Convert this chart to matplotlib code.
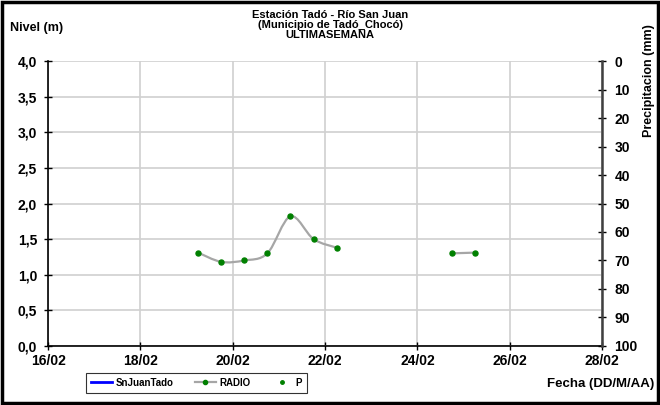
import numpy as np
import pandas as pd
import matplotlib
matplotlib.use('Agg')
import matplotlib.pyplot as plt
import matplotlib.dates as mdates
from matplotlib.path import Path
from matplotlib.patches import PathPatch, Rectangle
from matplotlib.lines import Line2D

plt.rcParams['font.family'] = ['Liberation Sans', 'DejaVu Sans']
plt.rcParams['font.weight'] = 'bold'

# RADIO readings, two pieces separated by a gap in transmission
radio_t1 = ['2023-02-19 06:00', '2023-02-19 18:00', '2023-02-20 06:00', '2023-02-20 18:00',
            '2023-02-21 06:00', '2023-02-21 18:00', '2023-02-22 06:00']
radio_v1 = [1.31, 1.18, 1.20, 1.30, 1.82, 1.50, 1.38]
radio_t2 = ['2023-02-24 18:00', '2023-02-25 06:00']
radio_v2 = [1.30, 1.31]

xticks = ['2023-02-16', '2023-02-18', '2023-02-20', '2023-02-22', '2023-02-24', '2023-02-26', '2023-02-28']
yticks = [0.0, 0.5, 1.0, 1.5, 2.0, 2.5, 3.0, 3.5, 4.0]
pticks = [0, 10, 20, 30, 40, 50, 60, 70, 80, 90, 100]

title = 'Estación Tadó - Río San Juan\n(Municipio de Tadó_Chocó)\nULTIMASEMANA'


def smooth_path(xs, ys):
    # excel-like smoothed line: cubic bezier through the points
    pts = np.column_stack([xs, ys])
    n = len(pts)
    verts = [pts[0]]
    codes = [Path.MOVETO]
    for i in range(n - 1):
        p0 = pts[i - 1] if i > 0 else pts[i]
        p1 = pts[i]
        p2 = pts[i + 1]
        p3 = pts[i + 2] if i + 2 < n else pts[i + 1]
        c1 = p1 + (p2 - p0) / 6.0
        c2 = p2 - (p3 - p1) / 6.0
        verts += [c1, c2, p2]
        codes += [Path.CURVE4] * 3
    return Path(verts, codes)


fig = plt.figure(figsize=(6.6, 4.05), dpi=100)
ax = fig.add_axes([0.073, 0.146, 0.839, 0.703])

for tt, vv in [(radio_t1, radio_v1), (radio_t2, radio_v2)]:
    xs = mdates.date2num(pd.to_datetime(tt))
    ax.add_patch(PathPatch(smooth_path(xs, vv), fill=False, edgecolor='#a6a6a6', lw=1.6, zorder=3))
    ax.plot(xs, vv, 'o', color='#008000', ms=3.6, zorder=4)

xt = mdates.date2num(pd.to_datetime(xticks))
ax.set_xlim(xt[0], xt[-1])
ax.set_xticks(xt)
ax.set_xticklabels([d.strftime('%d/%m') for d in pd.to_datetime(xticks)])
ax.set_ylim(0, 4)
ax.set_yticks(yticks)
ax.set_yticklabels([f'{v:.1f}'.replace('.', ',') for v in yticks])
ax.grid(True, color='#d0d0d0', lw=1.2)
ax.set_axisbelow(True)
ax.tick_params(direction='inout', length=6, width=1, labelsize=10, pad=3)
ax.tick_params(axis='y', pad=5)
for s in ['top', 'right']:
    ax.spines[s].set_visible(False)
ax.spines['left'].set_linewidth(1.2)
ax.spines['bottom'].set_linewidth(1.2)

ax2 = ax.twinx()
ax2.set_ylim(100, 0)
ax2.set_yticks(pticks)
ax2.tick_params(direction='inout', length=6, width=1, labelsize=10, pad=6)
for s in ['top', 'left', 'bottom']:
    ax2.spines[s].set_visible(False)
ax2.spines['right'].set_linewidth(1.8)
ax2.spines['right'].set_color('#404040')

fig.text(0.5, 0.975, title, ha='center', va='top', fontsize=8, fontweight='bold', linespacing=1.0)
fig.text(0.015, 0.93, 'Nivel (m)', ha='left', va='center', fontsize=9, fontweight='bold')
fig.text(0.984, 0.80, 'Precipitacion (mm)', ha='center', va='center', rotation=90, fontsize=9, fontweight='bold')
fig.text(0.992, 0.052, 'Fecha (DD/M/AA)', ha='right', va='center', fontsize=9.5, fontweight='bold')

handles = [Line2D([], [], color='#0000ff', lw=2),
           Line2D([], [], color='#a6a6a6', lw=1.6, marker='o', ms=3, mfc='#008000', mec='#008000'),
           Line2D([], [], ls='none', marker='o', ms=2.5, color='#008000')]
leg = fig.legend(handles, ['SnJuanTado', 'RADIO', 'P'], ncol=3, loc='center', bbox_to_anchor=(0.298, 0.055),
                 fontsize=7, frameon=True, fancybox=False, edgecolor='black', handlelength=2.2,
                 handletextpad=0.3, columnspacing=2.2, borderpad=0.5)
leg.get_frame().set_linewidth(0.8)
for t in leg.get_texts():
    t.set_fontweight('bold')

fig.patches.append(Rectangle((0.003, 0.004), 0.994, 0.992, transform=fig.transFigure,
                             fill=False, edgecolor='black', lw=2.5))

fig.savefig('out.png', dpi=100)
